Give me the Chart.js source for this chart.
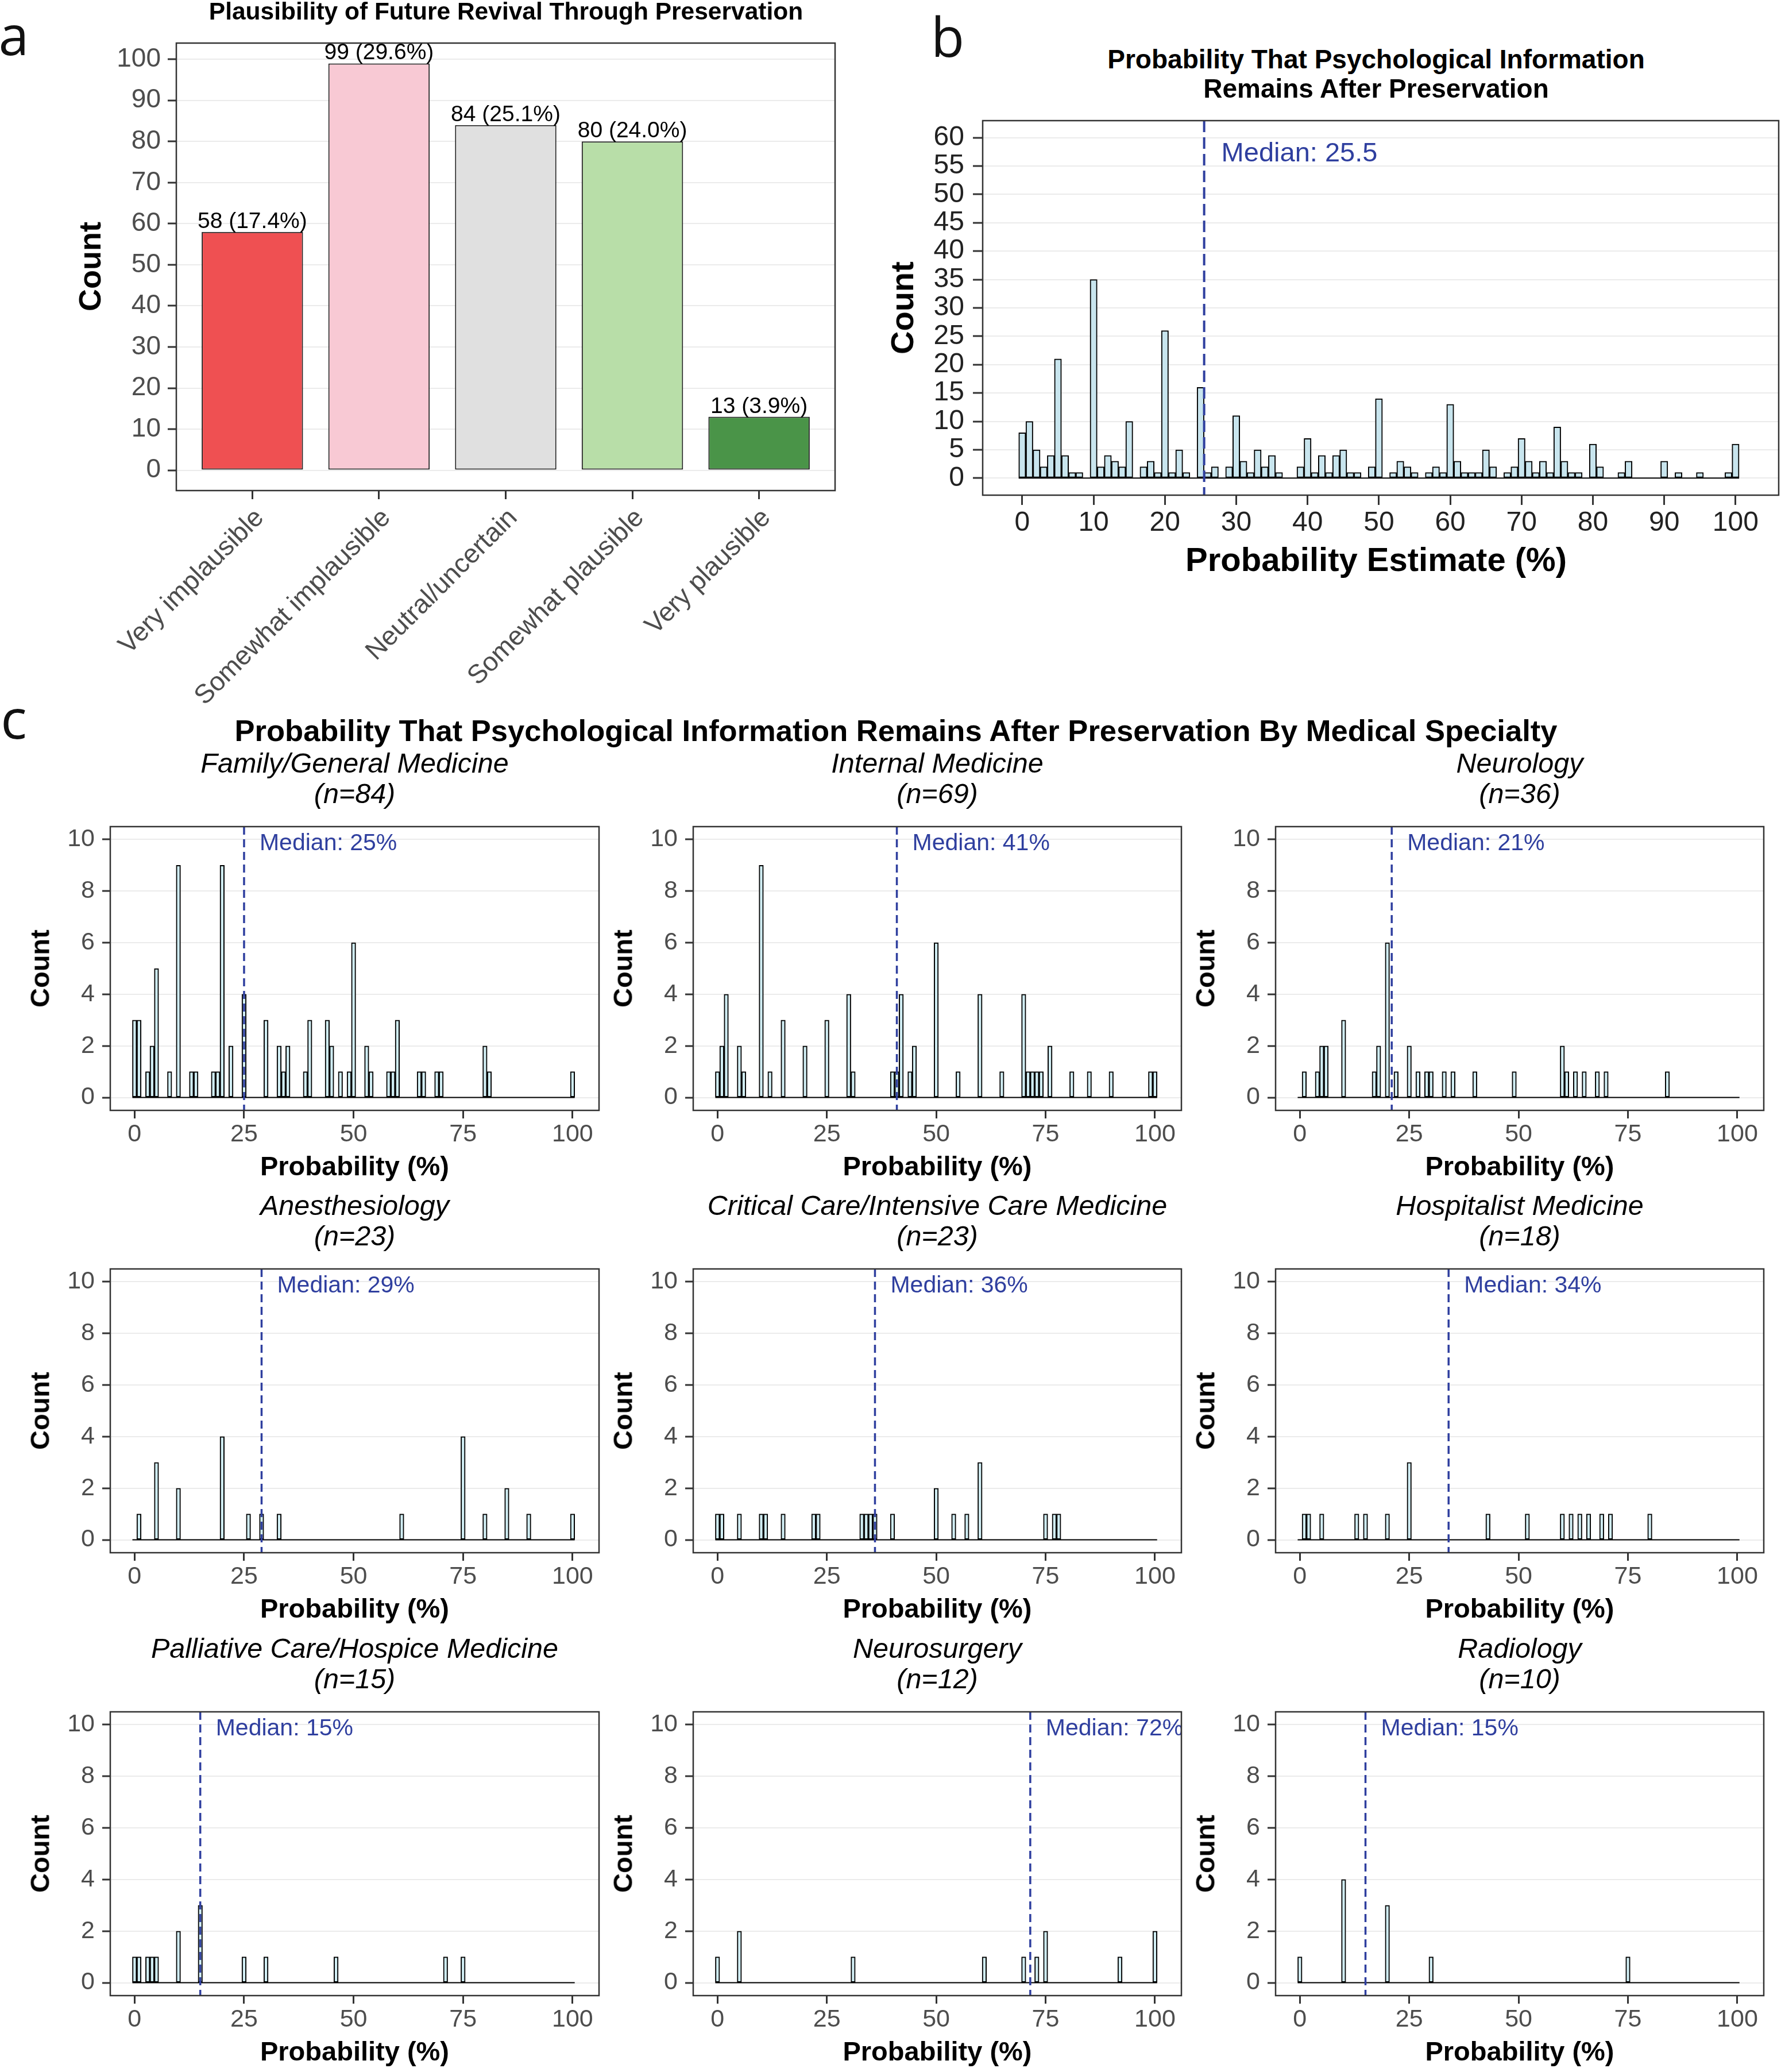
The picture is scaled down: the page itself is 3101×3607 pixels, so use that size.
<!DOCTYPE html>
<html>
<head>
<meta charset="utf-8">
<script src="https://cdn.jsdelivr.net/npm/chart.js@4.4.1/dist/chart.umd.min.js"></script>
<style>
html, body { margin: 0; padding: 0; background: #fff; }
#page { position: relative; width: 3101px; height: 3607px; overflow: hidden; background: #fff; font-family: "Liberation Sans", Arial, sans-serif; }
canvas { position: absolute; }
.t { position: absolute; white-space: nowrap; line-height: 1; color: #000; transform: translate(-50%, -50%); }
</style>
</head>
<body>
<div id="page"></div>
<script>
// panel a
const revivalLabels = ["Very implausible", "Somewhat implausible", "Neutral/uncertain", "Somewhat plausible", "Very plausible"]
const revivalCounts = [58, 99, 84, 80, 13]
const revivalColors = ["#EF5052", "#F8C9D4", "#E0E0E0", "#B8DEA8", "#4A9448"]
const revivalYTicks = [0, 10, 20, 30, 40, 50, 60, 70, 80, 90, 100]

// panel b - counts for 0..100 %
const overallCounts = [
    8, 10, 5, 2, 4, 21, 4, 1, 1, 0,
    35, 2, 4, 3, 2, 10, 0, 2, 3, 1,
    26, 1, 5, 1, 0, 16, 1, 2, 0, 2,
    11, 3, 1, 5, 2, 4, 1, 0, 0, 2,
    7, 1, 4, 1, 4, 5, 1, 1, 0, 2,
    14, 0, 1, 3, 2, 1, 0, 1, 2, 1,
    13, 3, 1, 1, 1, 5, 2, 0, 1, 2,
    7, 3, 1, 3, 1, 9, 3, 1, 1, 0,
    6, 2, 0, 0, 1, 3, 0, 0, 0, 0,
    3, 0, 1, 0, 0, 1, 0, 0, 0, 1,
    6
]
const overallMedian = 25.5
const overallXTicks = [0, 10, 20, 30, 40, 50, 60, 70, 80, 90, 100]
const overallYTicks = [0, 5, 10, 15, 20, 25, 30, 35, 40, 45, 50, 55, 60]

// panel c
const specialties = ["Family/General Medicine", "Internal Medicine", "Neurology",
    "Anesthesiology", "Critical Care/Intensive Care Medicine", "Hospitalist Medicine",
    "Palliative Care/Hospice Medicine", "Neurosurgery", "Radiology"]
const specialtyN = [84, 69, 36, 23, 23, 18, 15, 12, 10]
const specialtyMedians = [25, 41, 21, 29, 36, 34, 15, 71.5, 15]

const familyValues = [0, 1, 3, 4, 5, 8, 10, 13, 14, 18, 19, 20, 22, 25, 30, 33, 34, 35, 39, 40, 44, 45, 47, 49, 50, 53, 54, 58, 59, 60, 65, 66, 69, 70, 80, 81, 100]
const familyCounts = [3, 3, 1, 2, 5, 1, 9, 1, 1, 1, 1, 9, 2, 4, 3, 2, 1, 2, 1, 3, 3, 2, 1, 1, 6, 2, 1, 1, 1, 3, 1, 1, 1, 1, 2, 1, 1]
const internalValues = [0, 1, 2, 5, 6, 10, 12, 15, 20, 25, 30, 31, 40, 41, 42, 44, 45, 50, 55, 60, 65, 70, 71, 72, 73, 74, 76, 81, 85, 90, 99, 100]
const internalCounts = [1, 2, 4, 2, 1, 9, 1, 3, 2, 3, 4, 1, 1, 1, 4, 1, 2, 6, 1, 4, 1, 4, 1, 1, 1, 1, 2, 1, 1, 1, 1, 1]
const neurologyValues = [1, 4, 5, 6, 10, 17, 18, 20, 22, 25, 27, 29, 30, 33, 35, 40, 49, 60, 61, 63, 65, 68, 70, 84]
const neurologyCounts = [1, 1, 2, 2, 3, 1, 2, 6, 1, 2, 1, 1, 1, 1, 1, 1, 1, 2, 1, 1, 1, 1, 1, 1]
const anesthValues = [1, 5, 10, 20, 26, 29, 33, 61, 75, 80, 85, 90, 100]
const anesthCounts = [1, 3, 2, 4, 1, 1, 1, 1, 4, 1, 2, 1, 1]
const criticalValues = [0, 1, 5, 10, 11, 15, 22, 23, 33, 34, 35, 36, 40, 50, 54, 57, 60, 75, 77, 78]
const criticalCounts = [1, 1, 1, 1, 1, 1, 1, 1, 1, 1, 1, 1, 1, 2, 1, 1, 3, 1, 1, 1]
const hospitalistValues = [1, 2, 5, 13, 15, 20, 25, 43, 52, 60, 62, 64, 66, 69, 71, 80]
const hospitalistCounts = [1, 1, 1, 1, 1, 1, 3, 1, 1, 1, 1, 1, 1, 1, 1, 1]
const palliativeValues = [0, 1, 3, 4, 5, 10, 15, 25, 30, 46, 71, 75]
const palliativeCounts = [1, 1, 1, 1, 1, 2, 3, 1, 1, 1, 1, 1]
const neurosurgValues = [0, 5, 31, 61, 70, 73, 75, 92, 100]
const neurosurgCounts = [1, 2, 1, 1, 1, 1, 2, 1, 2]
const radiologyValues = [0, 10, 20, 30, 75]
const radiologyCounts = [1, 4, 3, 1, 1]

const facetXTicks = [0, 25, 50, 75, 100]
const facetYTicks = [0, 2, 4, 6, 8, 10]

const facetValues = [familyValues, internalValues, neurologyValues, anesthValues, criticalValues,
    hospitalistValues, palliativeValues, neurosurgValues, radiologyValues]
const facetCounts = [familyCounts, internalCounts, neurologyCounts, anesthCounts, criticalCounts,
    hospitalistCounts, palliativeCounts, neurosurgCounts, radiologyCounts]

const MEDIAN_BLUE = "#2F3F9F"
const FONT = "'Liberation Sans', Arial, sans-serif"

Chart.defaults.font.family = FONT
Chart.defaults.animation = false
Chart.defaults.plugins.legend.display = false
Chart.defaults.plugins.tooltip.enabled = false

const page = document.getElementById("page")

function put_text(str, x, y, size, extra){
    const d = document.createElement("div")
    d.className = "t"
    d.textContent = str
    d.style.left = x + "px"
    d.style.top = y + "px"
    d.style.fontSize = size + "px"
    Object.assign(d.style, extra || {})
    page.appendChild(d)
    return d
}

function place_canvas(box, pad){
    const c = document.createElement("canvas")
    const w = Math.round(box.r - box.l + pad.l + pad.r)
    const h = Math.round(box.b - box.t + pad.t + pad.b)
    c.width = w
    c.height = h
    c.style.left = Math.round(box.l - pad.l) + "px"
    c.style.top = Math.round(box.t - pad.t) + "px"
    c.style.width = w + "px"
    c.style.height = h + "px"
    page.appendChild(c)
    return c
}

function x_axis(o){
    return {
        type: "linear", min: o.min, max: o.max, bounds: "data", offset: false,
        afterBuildTicks: s => { s.ticks = o.ticks.map(v => ({value: v})) },
        afterFit: s => { s.height = o.fit },
        grid: {display: true, drawOnChartArea: false, offset: false, tickLength: o.tickLen, tickColor: "#333333", tickWidth: 3},
        border: {display: false},
        ticks: {font: {size: o.size}, color: o.color, padding: o.pad, autoSkip: false,
            maxRotation: o.rot || 0, minRotation: o.rot || 0, labelOffset: o.shift || 0,
            callback: o.cb || (v => String(v))}
    }
}

function y_axis(o){
    return {
        type: "linear", min: o.min, max: o.max, bounds: "data",
        afterBuildTicks: s => { s.ticks = o.ticks.map(v => ({value: v})) },
        afterFit: s => { s.width = o.fit },
        grid: {color: "#EBEBEB", lineWidth: 2, tickLength: o.tickLen, tickColor: "#333333", tickWidth: 3},
        border: {display: false},
        ticks: {font: {size: o.size}, color: o.color, padding: o.pad, autoSkip: false}
    }
}

function frame_plugin(width){
    return {
        id: "frame",
        afterDraw(chart){
            const a = chart.chartArea, ctx = chart.ctx
            ctx.save()
            ctx.strokeStyle = "#333333"
            ctx.lineWidth = width
            ctx.strokeRect(a.left, a.top, a.right - a.left, a.bottom - a.top)
            ctx.restore()
        }
    }
}

function median_plugin(value, text, textAt, size, dash, width, gap){
    return {
        id: "median",
        afterDatasetsDraw(chart){
            const a = chart.chartArea, ctx = chart.ctx
            const px = chart.scales.x.getPixelForValue(value)
            ctx.save()
            ctx.beginPath()
            ctx.rect(a.left, a.top, a.right - a.left, a.bottom - a.top)
            ctx.clip()
            ctx.strokeStyle = MEDIAN_BLUE
            ctx.lineWidth = width
            ctx.setLineDash(dash)
            ctx.beginPath()
            ctx.moveTo(px, a.top)
            ctx.lineTo(px, a.bottom)
            ctx.stroke()
            ctx.setLineDash([])
            ctx.fillStyle = MEDIAN_BLUE
            ctx.font = size + "px " + FONT
            ctx.textAlign = "left"
            ctx.textBaseline = "middle"
            ctx.fillText(text, px + gap, chart.scales.y.getPixelForValue(textAt))
            ctx.restore()
        }
    }
}

function to_bins(values, counts){
    const out = new Array(101).fill(0)
    values.forEach((v, i) => { out[v] = counts[i] })
    return out
}

function hist_datasets(counts, fill, lineW){
    return [
        {
            type: "line",
            data: [{x: -0.5, y: 0}, {x: 100.5, y: 0}],
            borderColor: "#000", borderWidth: lineW, pointRadius: 0
        },
        {
            type: "bar",
            data: counts.map((v, i) => ({x: i, y: v})),
            backgroundColor: fill, borderColor: "#000", borderWidth: lineW,
            borderSkipped: false, barPercentage: 1, categoryPercentage: 1, grouped: false
        }
    ]
}

// ---------- panel a ----------
const revivalTotal = revivalCounts.reduce((s, v) => s + v, 0)
const revivalText = revivalCounts.map(c => c + " (" + (100 * c / revivalTotal).toFixed(1) + "%)")
const boxA = {l: 307, t: 75, r: 1454, b: 854}
const padA = {l: 307, t: 75, r: 20, b: 400}
const chart_a = new Chart(place_canvas(boxA, padA), {
    type: "bar",
    data: {
        datasets: [{
            data: revivalCounts.map((v, i) => ({x: i + 1, y: v})),
            backgroundColor: revivalColors, borderColor: "#222", borderWidth: 2,
            borderSkipped: false, barPercentage: 0.8, categoryPercentage: 1
        }]
    },
    options: {
        responsive: false, devicePixelRatio: 1,
        layout: {padding: {left: 0, top: padA.t, right: padA.r, bottom: 0}},
        scales: {
            x: x_axis({min: 0.4, max: 5.6, ticks: [1, 2, 3, 4, 5], fit: padA.b, tickLen: 15, size: 46,
                color: "#4D4D4D", pad: 6, rot: 45, shift: 13, cb: v => revivalLabels[v - 1]}),
            y: y_axis({min: -4.95, max: 103.95, ticks: revivalYTicks, fit: padA.l, tickLen: 15, size: 46,
                color: "#4D4D4D", pad: 12})
        }
    },
    plugins: [frame_plugin(2.5), {
        id: "barText",
        afterDatasetsDraw(chart){
            const ctx = chart.ctx
            ctx.save()
            ctx.fillStyle = "#000"
            ctx.font = "39px " + FONT
            ctx.textAlign = "center"
            ctx.textBaseline = "alphabetic"
            chart.getDatasetMeta(0).data.forEach((bar, i) => {
                ctx.fillText(revivalText[i], bar.x, bar.y - 7)
            })
            ctx.restore()
        }
    }]
})

// ---------- panel b ----------
const boxB = {l: 1711, t: 210, r: 3097, b: 862}
const padB = {l: 150, t: 60, r: 4, b: 90}
const chart_b = new Chart(place_canvas(boxB, padB), {
    type: "bar",
    data: {datasets: hist_datasets(overallCounts, "#C8E5EE", 2)},
    options: {
        responsive: false, devicePixelRatio: 1,
        layout: {padding: {left: 0, top: padB.t, right: padB.r, bottom: 0}},
        scales: {
            x: x_axis({min: -5.55, max: 106.05, ticks: overallXTicks, fit: padB.b, tickLen: 17, size: 48,
                color: "#222222", pad: 3}),
            y: y_axis({min: -3, max: 63, ticks: overallYTicks, fit: padB.l, tickLen: 17, size: 48,
                color: "#222222", pad: 15})
        }
    },
    plugins: [frame_plugin(2.5),
        median_plugin(overallMedian, "Median: " + overallMedian, 57.1, 47, [20, 9], 4, 30)]
})

// ---------- panel c ----------
const colZero = [234.5, 1249, 2263]
const rowBase = [1911, 2681, 3452]
const xUnit = 7.62
const yUnit = 44.94
const facetBoxes = []
specialties.forEach((name, k) => {
    const col = k % 3, row = Math.floor(k / 3)
    const box = {
        l: Math.round(colZero[col] - 5.55 * xUnit),
        r: Math.round(colZero[col] + 106.05 * xUnit),
        t: Math.round(rowBase[row] - 10.5 * yUnit),
        b: Math.round(rowBase[row] + 0.5 * yUnit)
    }
    facetBoxes.push(box)
    const pad = {l: 160, t: 45, r: 30, b: 80}
    const m = specialtyMedians[k]
    new Chart(place_canvas(box, pad), {
        type: "bar",
        data: {datasets: hist_datasets(to_bins(facetValues[k], facetCounts[k]), "#D0EDF3", 2)},
        options: {
            responsive: false, devicePixelRatio: 1,
            layout: {padding: {left: 0, top: pad.t, right: pad.r, bottom: 0}},
            scales: {
                x: x_axis({min: -5.55, max: 106.05, ticks: facetXTicks, fit: pad.b, tickLen: 14, size: 43,
                    color: "#4D4D4D", pad: 2}),
                y: y_axis({min: -0.5, max: 10.5, ticks: facetYTicks, fit: pad.l, tickLen: 14, size: 43,
                    color: "#4D4D4D", pad: 13})
            }
        },
        plugins: [frame_plugin(2.5),
            median_plugin(m, "Median: " + Math.round(m) + "%", 9.85, 41, [14, 8], 3.5, 27)]
    })
})

// ---------- text ----------
put_text("a", 24, 59, 95, {fontFamily: "'Open Sans', sans-serif", color: "#111"})
put_text("b", 1650, 62, 95, {fontFamily: "'Open Sans', sans-serif", color: "#111"})
put_text("c", 24, 1249, 95, {fontFamily: "'Open Sans', sans-serif", color: "#111"})

put_text("Plausibility of Future Revival Through Preservation", 881, 20, 42.5, {fontWeight: "bold"})
put_text("Count", 156, 464, 54, {fontWeight: "bold", transform: "translate(-50%, -50%) rotate(-90deg)"})

put_text("Probability That Psychological Information", 2396, 103, 46, {fontWeight: "bold"})
put_text("Remains After Preservation", 2396, 154, 46, {fontWeight: "bold"})
put_text("Count", 1571, 536, 56, {fontWeight: "bold", transform: "translate(-50%, -50%) rotate(-90deg)"})
put_text("Probability Estimate (%)", 2396, 974, 58, {fontWeight: "bold"})

put_text("Probability That Psychological Information Remains After Preservation By Medical Specialty", 1560, 1272, 52.5, {fontWeight: "bold"})
specialties.forEach((name, k) => {
    const box = facetBoxes[k]
    const cx = (box.l + box.r) / 2
    put_text(name, cx, box.t - 111, 48.5, {fontStyle: "italic"})
    put_text("(n=" + specialtyN[k] + ")", cx, box.t - 58, 48.5, {fontStyle: "italic"})
    put_text("Count", box.l - 123, (box.t + box.b) / 2, 47, {fontWeight: "bold", transform: "translate(-50%, -50%) rotate(-90deg)"})
    put_text("Probability (%)", cx, box.b + 96, 47, {fontWeight: "bold"})
})
</script>
</body>
</html>
